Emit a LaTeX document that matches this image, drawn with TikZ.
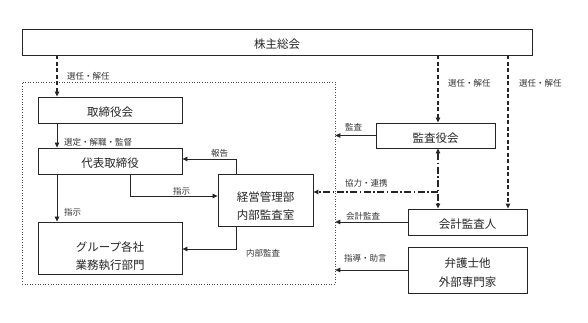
\documentclass[tikz,border=0pt]{standalone}
\usepackage{fontspec}
\setmainfont{Noto Sans CJK JP}
\usetikzlibrary{arrows.meta}
\begin{document}
\begin{tikzpicture}[x=1pt,y=-1pt,
  box/.style={draw=black!85, line width=0.9pt, inner sep=0pt, fill=white},
  btxt/.style={font=\fontsize{11.5}{18.5}\selectfont, align=center, inner sep=0pt, text=black!85},
  lab/.style={font=\fontsize{8.5}{9}\selectfont, inner sep=0pt, anchor=west, text=black!80},
  arr/.style={-{Triangle[length=5pt,width=4.5pt]}, line width=0.8pt, draw=black!85},
  dsh/.style={dash pattern=on 4pt off 2.5pt, line width=1.1pt},
  ddot/.style={dash pattern=on 7pt off 2.5pt on 1.5pt off 2.5pt, line width=1.1pt}]
\useasboundingbox (0,0) rectangle (588,323);
% frame
\node[draw=black!70, dotted, line width=0.6pt, minimum width=313pt, minimum height=202pt, inner sep=0pt] (frame) at (178.5,183) {};
% boxes
\node[box, minimum width=510pt, minimum height=26pt] (sh) at (277,42) {};
\node[btxt] (shT) at (277,44) {株主総会};
\node[box, minimum width=144pt, minimum height=26pt] (tori) at (110,110) {};
\node[btxt] (toriT) at (110,112.5) {取締役会};
\node[box, minimum width=144pt, minimum height=26pt] (dai) at (110,161) {};
\node[btxt] (daiT) at (110,163.5) {代表取締役};
\node[box, minimum width=144pt, minimum height=52pt] (grp) at (110,248) {};
\node[btxt] (grpT) at (110,256) {グループ各社\\業務執行部門};
\node[box, minimum width=95pt, minimum height=52pt] (kei) at (265.5,200) {};
\node[btxt] (keiT) at (265.5,206) {経営管理部\\内部監査室};
\node[box, minimum width=119pt, minimum height=25pt] (kan) at (435.5,135.5) {};
\node[btxt] (kanT) at (435.5,138) {監査役会};
\node[box, minimum width=119pt, minimum height=26pt] (kai) at (467.5,222) {};
\node[btxt] (kaiT) at (467.5,224.5) {会計監査人};
\node[box, minimum width=119pt, minimum height=46pt] (ben) at (467.5,270) {};
\node[btxt] (benT) at (467.5,272.5) {弁護士他\\外部専門家};
% helper coordinates
\coordinate (xL) at (57,0);
\coordinate (xM) at (130,0);
\coordinate (xK) at (236,0);
\coordinate (xA) at (438,0);
\coordinate (xB) at (508,0);
\coordinate (yR) at (0,159);
\coordinate (yS) at (0,196);
\coordinate (yU) at (0,249);
\coordinate (yC) at (0,192);
% connectors
\draw[arr, dsh] (sh.south -| xL) -- (tori.north -| xL);
\draw[arr] (tori.south -| xL) -- (dai.north -| xL);
\draw[arr] (dai.south -| xL) -- (grp.north -| xL);
\draw[arr] (dai.south -| xM) -- (xM |- yS) -- (kei.west |- yS);
\draw[arr] (kei.north -| xK) -- (xK |- yR) -- (dai.east |- yR);
\draw[arr] (kei.south -| xK) -- (xK |- yU) -- (grp.east |- yU);
\draw[arr, dsh] (sh.south -| xA) -- (kan.north -| xA);
\draw[arr, dsh] (sh.south -| xB) -- (kai.north -| xB);
\draw[arr] (kan.west) -- (kan.west -| frame.east);
\draw[arr] (kai.west) -- (kai.west -| frame.east);
\draw[arr] (ben.west) -- (ben.west -| frame.east);
\draw[arr, ddot, {Triangle[length=5pt,width=4.5pt]}-{Triangle[length=5pt,width=4.5pt]}] (kan.south -| xA) -- (kai.north -| xA);
\draw[arr, ddot] (xA |- yC) -- (kei.east |- yC);
% labels
\node[lab] (l1) at (67,76) {選任・解任};
\node[lab] (l2) at (64,142) {選定・解職・監督};
\node[lab] (l3) at (211,153) {報告};
\node[lab] (l4) at (173,191) {指示};
\node[lab] (l5) at (64,212) {指示};
\node[lab] (l6) at (246,253) {内部監査};
\node[lab] (l7) at (448,83) {選任・解任};
\node[lab] (l8) at (519,83) {選任・解任};
\node[lab] (l9) at (345,127) {監査};
\node[lab] (l10) at (345,183) {協力・連携};
\node[lab] (l11) at (346,216) {会計監査};
\node[lab] (l12) at (344,258) {指導・助言};
\end{tikzpicture}
\end{document}
